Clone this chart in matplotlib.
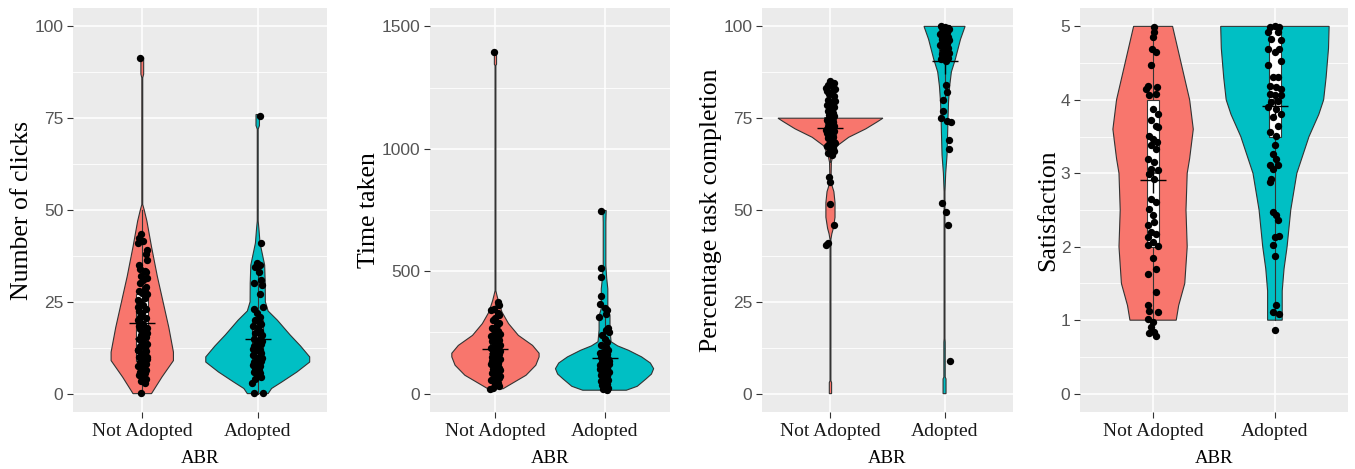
import matplotlib.pyplot as plt
import numpy as np

# ---- categories / labels ----
groups = ["Not Adopted", "Adopted"]
colors = ["#F8766D", "#00BFC4"]
ylabels = ["Number of clicks", "Time taken", "Percentage task completion", "Satisfaction"]
yticks = [[0, 25, 50, 75, 100], [0, 500, 1000, 1500], [0, 25, 50, 75, 100], [0, 1, 2, 3, 4, 5]]
yminor = [[12.5, 37.5, 62.5, 87.5], [250, 750, 1250], [12.5, 37.5, 62.5, 87.5],
          [0.5, 1.5, 2.5, 3.5, 4.5]]
ylims = [(0, 100), (0, 1500), (0, 100), (0, 5)]

# ---- violin outlines: (y levels, half widths) ----
clicks_na_y = [0, 2, 4.5, 9, 11.3, 18, 25, 32, 40, 47, 50, 51.5, 86, 87, 91.5]
clicks_na_w = [0.08, 0.12, 0.17, 0.27, 0.27, 0.23, 0.18, 0.13, 0.08, 0.04, 0.017, 0.004, 0.004, 0.012, 0.012]
clicks_ad_y = [0, 1.4, 3.2, 5.9, 8.6, 10, 13, 16, 20, 22.5, 25, 30, 35, 38, 41, 45, 47, 72, 73, 76]
clicks_ad_w = [0.09, 0.12, 0.21, 0.34, 0.45, 0.45, 0.37, 0.28, 0.17, 0.09, 0.066, 0.065, 0.06, 0.04,
               0.02, 0.01, 0.004, 0.004, 0.015, 0.015]
time_na_y = [20, 41, 75, 116, 150, 165, 197, 238, 286, 333, 381, 408, 420, 1340, 1345, 1394]
time_na_w = [0.07, 0.15, 0.28, 0.37, 0.40, 0.40, 0.34, 0.21, 0.12, 0.06, 0.025, 0.01, 0.004, 0.004, 0.01, 0.01]
time_ad_y = [14, 30, 60, 80, 102, 125, 150, 177, 195, 212, 260, 318, 347, 428, 470, 523, 580, 700, 748]
time_ad_w = [0.20, 0.30, 0.38, 0.43, 0.45, 0.42, 0.34, 0.22, 0.12, 0.06, 0.05, 0.05, 0.03, 0.03, 0.02,
             0.012, 0.012, 0.012, 0.015]
pct_na_y = [0, 3, 3.5, 42, 43.5, 45, 48, 52, 55, 57, 58, 63, 64.8, 67.5, 69.8, 72.1, 74, 75]
pct_na_w = [0.01, 0.01, 0.004, 0.004, 0.012, 0.025, 0.04, 0.04, 0.03, 0.01, 0.005, 0.008, 0.02, 0.06,
            0.16, 0.31, 0.41, 0.46]
pct_ad_y = [0, 4, 4.5, 14, 15, 55, 60, 65, 72, 74.8, 79.4, 83.8, 87.6, 91.1, 96.5, 100]
pct_ad_w = [0.013, 0.013, 0.006, 0.006, 0.004, 0.004, 0.01, 0.022, 0.028, 0.03, 0.035, 0.045, 0.06,
            0.095, 0.14, 0.18]
sat_na_y = [1.0, 1.2, 1.5, 2.0, 2.5, 3.0, 3.2, 3.6, 4.0, 4.5, 5.0]
sat_na_w = [0.19, 0.21, 0.26, 0.28, 0.27, 0.28, 0.30, 0.33, 0.30, 0.23, 0.16]
sat_ad_y = [1.0, 1.4, 1.7, 2.0, 2.5, 3.0, 3.2, 3.5, 3.8, 4.0, 4.3, 4.7, 5.0]
sat_ad_w = [0.06, 0.06, 0.075, 0.10, 0.13, 0.18, 0.22, 0.28, 0.36, 0.40, 0.42, 0.44, 0.445]

# ---- boxplot stats: whisker low, q1, median, q3, whisker high ----
box_stats = [
    [(0, 9, 15, 27, 50), (0, 8, 12, 20, 36)],
    [(20, 110, 160, 230, 375), (15, 70, 110, 180, 340)],
    [(63, 70, 75, 75, 75), (80, 91, 100, 100, 100)],
    [(1, 2, 3, 4, 5), (1, 3.5, 4, 5, 5)],
]
means = [[19.3, 14.8], [181, 146], [72.3, 90.7], [2.91, 3.91]]

# ---- jittered points: (y, x offset) ----
clicks_na_pts = [(91.5, -0.02), (0.3, -0.01), (43.5, -0.01), (42.5, -0.03), (41, -0.04), (41.5, 0.01),
                 (39, 0.04), (38, 0.03), (36.5, 0.04), (35, -0.03), (34, -0.02), (33.5, 0.02), (33, 0.03),
                 (32, -0.01), (31, 0.01), (30, -0.02), (29, 0.03), (28, -0.03), (27.5, 0.0), (27, 0.04),
                 (26, 0.02), (25, -0.02), (24, 0.01), (23, 0.03), (22.5, -0.03), (22, 0.0), (21, -0.02),
                 (20.5, 0.03), (20, -0.04), (19, 0.01), (18, 0.04), (17.5, -0.02), (17, 0.02), (16, -0.01),
                 (15.5, 0.03), (15, -0.03), (14, 0.0), (13.5, 0.04), (13, -0.02), (12.5, 0.02), (12, -0.04),
                 (11.5, 0.03), (11, -0.01), (10.5, 0.01), (10, -0.03), (10, 0.04), (9, 0.0), (8.5, -0.02),
                 (8, 0.03), (7.5, -0.04), (7, 0.01), (6.5, 0.03), (6, -0.02), (5.5, 0.02), (5, -0.03),
                 (4.5, 0.0), (4, 0.03), (3.5, -0.01), (3, 0.02), (25.5, -0.04), (18.5, -0.03), (16.5, 0.04),
                 (28.5, 0.02), (31.5, 0.04), (23.5, -0.04), (9.5, 0.04), (11.8, -0.04), (13.8, 0.01)]
clicks_ad_pts = [(75.7, 0.02), (41, 0.03), (35.5, -0.01), (35, 0.02), (34.5, -0.02), (33, 0.01), (31, 0.03),
                 (30, -0.03), (29.5, 0.04), (27, 0.02), (23.5, 0.05), (23, -0.03), (22, -0.01), (21, 0.02),
                 (20, -0.02), (19, 0.03), (18.5, -0.04), (18, 0.0), (17, 0.02), (16.5, -0.02), (16, 0.04),
                 (15, -0.03), (14.5, 0.01), (14, -0.01), (13.5, 0.03), (13, -0.03), (12.5, 0.0), (12, 0.02),
                 (11.5, -0.02), (11, 0.03), (10.5, -0.04), (10, 0.01), (9.5, -0.01), (9, 0.03), (8.5, -0.03),
                 (8, 0.0), (7.5, 0.02), (7, -0.02), (6.5, 0.01), (6, -0.03), (5.5, 0.02), (5, -0.01),
                 (4.5, 0.03), (4, -0.02), (3, -0.05), (0.2, -0.035), (0.2, 0.05), (19.5, 0.01), (12.2, -0.04),
                 (9.8, 0.04), (7.8, -0.04), (14.2, 0.04)]
time_na_pts = [(1394, -0.015), (375, 0.02), (360, 0.03), (345, -0.01), (340, -0.04), (330, 0.02), (320, 0.03),
               (310, 0.0), (300, -0.02), (290, 0.03), (280, 0.01), (270, -0.03), (265, -0.01), (255, 0.02),
               (245, 0.04), (240, -0.02), (230, 0.0), (220, 0.03), (215, -0.03), (205, 0.01), (200, 0.04),
               (190, -0.01), (185, -0.04), (180, 0.02), (170, 0.0), (165, -0.02), (160, 0.03), (150, -0.03),
               (145, 0.01), (140, 0.04), (130, -0.01), (125, 0.02), (120, -0.04), (110, 0.0), (105, 0.03),
               (100, -0.02), (90, 0.02), (85, -0.03), (75, 0.01), (70, 0.04), (60, -0.01), (55, -0.04),
               (45, 0.02), (40, 0.0), (30, 0.03), (25, -0.02), (20, -0.05), (175, 0.04), (235, -0.04),
               (135, -0.03), (95, 0.04), (65, 0.03)]
time_ad_pts = [(745, -0.035), (515, -0.03), (475, -0.03), (400, -0.03), (365, -0.04), (350, 0.0), (340, 0.02),
               (325, 0.01), (315, -0.05), (270, 0.03), (260, 0.01), (250, 0.04), (240, -0.02), (225, 0.0),
               (210, 0.02), (200, -0.03), (190, 0.01), (180, 0.03), (170, -0.01), (160, 0.02), (150, -0.03),
               (145, 0.0), (140, 0.03), (130, -0.02), (125, 0.01), (120, 0.04), (110, -0.01), (105, 0.02),
               (100, -0.04), (95, 0.0), (90, 0.03), (85, -0.02), (80, 0.01), (75, -0.03), (70, 0.02), (65, 0.0),
               (60, -0.01), (55, 0.03), (50, -0.03), (45, 0.01), (40, 0.02), (35, -0.02), (30, 0.0), (25, 0.03),
               (20, -0.01), (15, 0.02), (115, -0.04), (135, 0.04), (165, -0.04), (88, 0.04)]
pct_na_pts = [(85, 0.0), (84.5, 0.03), (84, -0.02), (83.5, 0.02), (83, 0.04), (82.5, -0.03), (82, 0.01),
              (81.5, -0.01), (81, 0.03), (80, -0.02), (79.5, 0.02), (79, 0.0), (78.5, -0.03), (78, 0.03),
              (77.5, 0.01), (77, -0.02), (76.5, 0.02), (76, -0.01), (75.5, 0.03), (75, 0.0), (74.5, -0.03),
              (74, 0.02), (73.5, -0.01), (73, 0.03), (72.5, -0.02), (72, 0.01), (71.5, 0.03), (71, -0.03),
              (70.5, 0.0), (70, 0.02), (69.5, -0.02), (69, 0.01), (68.5, 0.03), (68, -0.01), (67.5, -0.03),
              (67, 0.02), (66.5, 0.0), (66, 0.03), (65.5, -0.02), (65, 0.01), (59, -0.01), (57.5, 0.0),
              (51.5, 0.0), (46, 0.03), (41, -0.02), (40.5, -0.04), (79.8, 0.04), (83.2, -0.04), (71.8, -0.04),
              (68.2, 0.04)]
pct_ad_pts = [(100, -0.03), (99.8, 0.0), (99.5, 0.03), (99, -0.01), (98.5, 0.02), (98, -0.03), (97.5, 0.01),
              (97, 0.03), (96.5, -0.02), (96, 0.0), (95.5, 0.02), (95, -0.03), (94.5, 0.01), (94, 0.03),
              (93.5, -0.01), (93, 0.02), (92.5, -0.02), (92, 0.0), (91.5, 0.03), (91, -0.03), (90.5, 0.01),
              (99.2, 0.04), (97.8, -0.04), (96.2, 0.04), (94.8, -0.04), (92.8, 0.04), (84, 0.015), (82, 0.025),
              (80, -0.015), (77, -0.015), (75, -0.03), (74, 0.06), (74.2, 0.02), (69, 0.04), (66.5, 0.04),
              (52, -0.02), (49.5, 0.01), (46, 0.03), (9, 0.05)]
sat_na_pts = [(4.99, 0.01), (4.92, 0.01), (4.85, 0.0), (4.69, -0.008), (4.65, 0.024), (4.47, -0.016),
              (4.19, -0.043), (4.15, -0.056), (4.18, 0.03), (4.06, -0.03), (4.08, 0.024), (3.88, 0.0),
              (3.81, 0.037), (3.72, -0.016), (3.65, 0.024), (3.63, 0.037), (3.51, -0.03), (3.47, 0.0),
              (3.42, 0.03), (3.38, -0.016), (3.33, 0.024), (3.20, -0.043), (3.15, 0.01), (3.06, -0.016),
              (3.04, 0.037), (2.99, -0.03), (2.92, 0.01), (2.65, -0.016), (2.61, 0.02), (2.52, -0.03),
              (2.43, 0.0), (2.33, 0.01), (2.29, -0.043), (2.20, -0.016), (2.18, 0.024), (2.13, -0.043),
              (2.06, 0.0), (2.02, -0.043), (2.01, 0.037), (1.84, 0.0), (1.70, 0.024), (1.63, -0.043),
              (1.38, 0.02), (1.20, -0.043), (1.13, -0.03), (1.11, 0.037), (1.02, -0.043), (0.97, 0.0),
              (0.91, -0.016), (0.84, 0.01), (0.82, -0.03), (0.79, 0.024)]
sat_ad_pts = [(4.99, -0.043), (5.0, 0.0), (4.99, 0.037), (4.92, -0.056), (4.92, 0.024), (4.83, -0.03),
              (4.81, 0.05), (4.69, -0.056), (4.69, 0.037), (4.65, 0.0), (4.53, 0.05), (4.47, -0.056),
              (4.31, -0.016), (4.31, 0.024), (4.19, -0.043), (4.17, 0.01), (4.15, 0.05), (4.08, -0.043),
              (4.06, 0.0), (4.06, 0.05), (3.99, 0.024), (3.97, -0.03), (3.90, -0.056), (3.88, 0.01),
              (3.81, 0.05), (3.76, -0.016), (3.65, 0.024), (3.56, -0.043), (3.51, 0.01), (3.38, 0.0),
              (3.26, -0.016), (3.20, 0.01), (3.11, -0.043), (3.11, 0.024), (3.06, -0.016), (2.92, -0.03),
              (2.88, -0.043), (2.47, -0.016), (2.43, 0.01), (2.36, 0.024), (2.13, 0.0), (2.15, 0.037),
              (2.02, -0.016), (1.88, 0.0), (1.20, 0.01), (1.11, -0.016), (1.09, 0.037), (0.86, 0.0)]

violins = [
    [(clicks_na_y, clicks_na_w), (clicks_ad_y, clicks_ad_w)],
    [(time_na_y, time_na_w), (time_ad_y, time_ad_w)],
    [(pct_na_y, pct_na_w), (pct_ad_y, pct_ad_w)],
    [(sat_na_y, sat_na_w), (sat_ad_y, sat_ad_w)],
]
points = [
    [clicks_na_pts, clicks_ad_pts],
    [time_na_pts, time_ad_pts],
    [pct_na_pts, pct_ad_pts],
    [sat_na_pts, sat_ad_pts],
]

# axes placement in pixels (left, width); all panels share top/bottom
W, H = 1355, 469
panel_px = [(73, 254), (430, 240), (762, 251), (1080, 268)]
top_px, bot_px = 8, 412

serif = "Liberation Serif"
sans = "Liberation Sans"

fig = plt.figure(figsize=(W / 100, H / 100), dpi=100)

for k in range(4):
    left, width = panel_px[k]
    ax = fig.add_axes([left / W, (H - bot_px) / H, width / W, (bot_px - top_px) / H])
    ax.set_facecolor("#EBEBEB")
    for s in ax.spines.values():
        s.set_visible(False)

    lo, hi = ylims[k]
    pad = (hi - lo) * 0.05
    ax.set_ylim(lo - pad, hi + pad)
    ax.set_xlim(0.4, 2.6)

    # grid
    for v in yminor[k]:
        ax.axhline(v, color="white", lw=0.6, zorder=0)
    for v in yticks[k]:
        ax.axhline(v, color="white", lw=1.1, zorder=0)
    for v in [1, 2]:
        ax.axvline(v, color="white", lw=1.1, zorder=0)

    for g in range(2):
        c = g + 1
        vy, vw = violins[k][g]
        vy = np.array(vy, dtype=float)
        vw = np.array(vw, dtype=float)
        px = np.concatenate([c + vw, (c - vw)[::-1]])
        py = np.concatenate([vy, vy[::-1]])
        ax.fill(px, py, facecolor=colors[g], edgecolor="#333333", lw=0.8, zorder=2)

        # boxplot
        wlo, q1, med, q3, whi = box_stats[k][g]
        bw = 0.05
        ax.plot([c, c], [wlo, q1], color="#333333", lw=0.8, zorder=3)
        ax.plot([c, c], [q3, whi], color="#333333", lw=0.8, zorder=3)
        ax.fill([c - bw, c + bw, c + bw, c - bw], [q1, q1, q3, q3], facecolor="white",
                edgecolor="#333333", lw=0.8, zorder=3)
        ax.plot([c - bw, c + bw], [med, med], color="#333333", lw=1.2, zorder=3)

        # jittered points
        pts = np.array(points[k][g])
        ax.scatter(c + pts[:, 1], pts[:, 0], s=28, color="black", zorder=4, linewidths=0)

        # mean
        ax.plot([c], [means[k][g]], marker="+", markersize=19, mew=1.0, color="black", zorder=5)

    ax.set_xticks([1, 2])
    ax.set_xticklabels(groups, fontfamily=serif, fontsize=14, color="#1a1a1a")
    ax.set_yticks(yticks[k])
    ax.set_yticklabels([str(t) for t in yticks[k]], fontfamily=sans, fontsize=12.5, color="#555555")
    ax.tick_params(axis="both", length=4, width=0.8, color="#333333", pad=3)
    ax.tick_params(axis="x", pad=4)
    ax.set_xlabel("ABR", fontfamily=serif, fontsize=13.5, labelpad=7)
    ax.set_ylabel(ylabels[k], fontfamily=serif, fontsize=18.5, labelpad=1)

fig.savefig("out.png", dpi=100)
